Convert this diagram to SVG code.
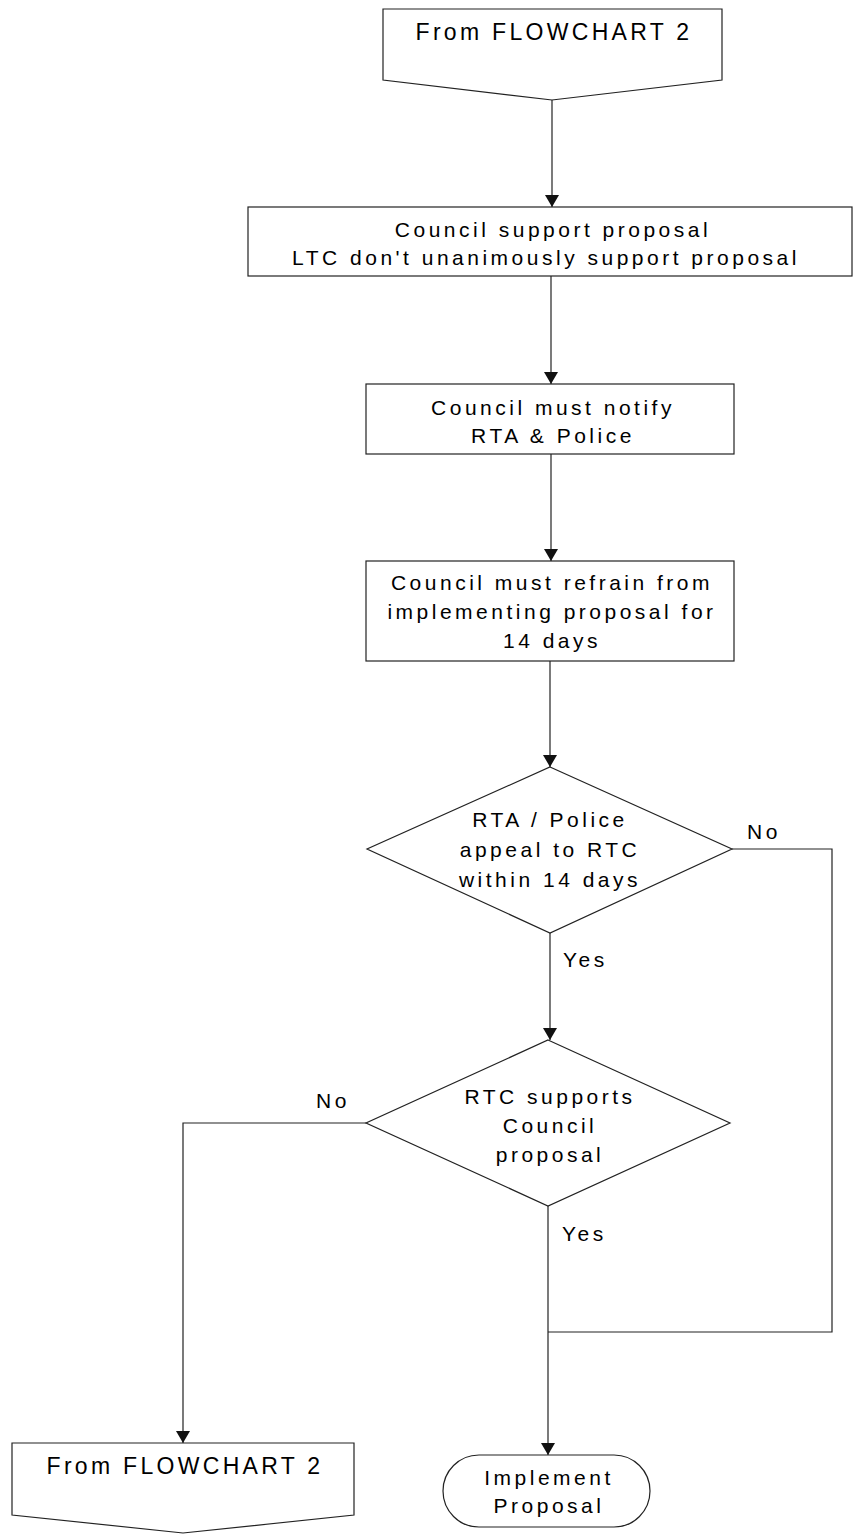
<svg xmlns="http://www.w3.org/2000/svg" width="859" height="1534" viewBox="0 0 859 1534">
<style>
.s{fill:#fff;stroke:#222;stroke-width:1.2}
.c{fill:none;stroke:#222;stroke-width:1.2}
text{font-family:"Liberation Sans",Arial,sans-serif;font-size:21px;fill:#000;letter-spacing:3.5px}
.m{text-anchor:middle}
.big{font-size:23px;letter-spacing:3.3px}
</style>
<defs>
<marker id="a" viewBox="0 0 12 14" refX="12" refY="7" markerWidth="12" markerHeight="14" markerUnits="userSpaceOnUse" orient="auto">
<path d="M0,0 L12,7 L0,14 z" fill="#111"/>
</marker>
</defs>
<g id="connectors">
<path class="c" d="M552,100 V207" marker-end="url(#a)"/>
<path class="c" d="M551,276 V384" marker-end="url(#a)"/>
<path class="c" d="M551,454 V561" marker-end="url(#a)"/>
<path class="c" d="M550,661 V767" marker-end="url(#a)"/>
<path class="c" d="M550,933 V1040" marker-end="url(#a)"/>
<path class="c" d="M732,849 H832 V1332 H548"/>
<path class="c" d="M366,1123 H183 V1443" marker-end="url(#a)"/>
<path class="c" d="M548,1206 V1455" marker-end="url(#a)"/>
<text x="747" y="839">No</text>
<text x="563" y="967">Yes</text>
<text x="316" y="1108">No</text>
<text x="562" y="1241">Yes</text>
</g>
<g id="start">
<polygon class="s" points="383,9 722,9 722,80 552,100 383,80"/>
<text class="m big" x="554" y="40">From FLOWCHART 2</text>
</g>
<g id="box1">
<rect class="s" x="248" y="207" width="604" height="69"/>
<text class="m" x="553" y="237">Council support proposal</text>
<text class="m" x="546" y="265">LTC don't unanimously support proposal</text>
</g>
<g id="box2">
<rect class="s" x="366" y="384" width="368" height="70"/>
<text class="m" x="553" y="415">Council must notify</text>
<text class="m" x="553" y="443">RTA &amp; Police</text>
</g>
<g id="box3">
<rect class="s" x="366" y="561" width="368" height="100"/>
<text class="m" x="552" y="590">Council must refrain from</text>
<text class="m" x="552" y="619">implementing proposal for</text>
<text class="m" x="552" y="648">14 days</text>
</g>
<g id="dec1">
<polygon class="s" points="550,767 732,849 550,933 367,849"/>
<text class="m" x="550" y="827">RTA / Police</text>
<text class="m" x="550" y="857">appeal to RTC</text>
<text class="m" x="550" y="887">within 14 days</text>
</g>
<g id="dec2">
<polygon class="s" points="548,1040 730,1123 548,1206 366,1123"/>
<text class="m" x="550" y="1104">RTC supports</text>
<text class="m" x="550" y="1133">Council</text>
<text class="m" x="550" y="1162">proposal</text>
</g>
<g id="end1">
<polygon class="s" points="12,1443 354,1443 354,1515 183,1533 12,1515"/>
<text class="m big" x="185" y="1474">From FLOWCHART 2</text>
</g>
<g id="end2">
<rect class="s" x="443" y="1455" width="207" height="72" rx="36"/>
<text class="m" x="549" y="1485">Implement</text>
<text class="m" x="549" y="1513">Proposal</text>
</g>
</svg>
